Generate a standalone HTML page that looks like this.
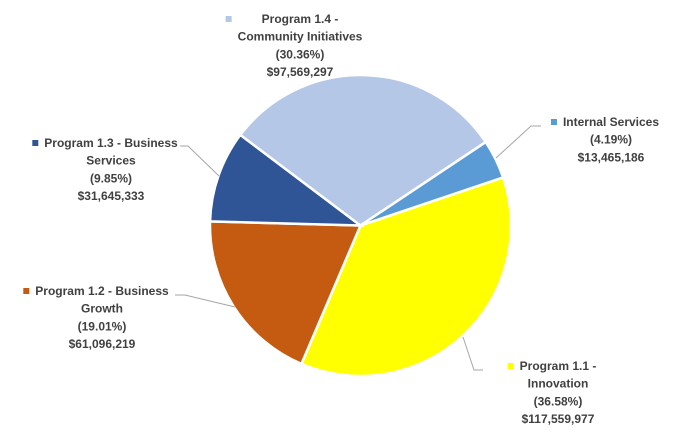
<!DOCTYPE html>
<html><head><meta charset="utf-8"><style>
body{margin:0;background:#fff;}
svg text{font-family:"Liberation Sans",sans-serif;font-weight:bold;font-size:12px;fill:#404040;}
</style></head><body>
<svg id="chart" width="681" height="441" xmlns="http://www.w3.org/2000/svg"></svg>
<script>
const categories = ["Program 1.1 - Innovation","Program 1.2 - Business Growth","Program 1.3 - Business Services","Program 1.4 - Community Initiatives","Internal Services"];
const values = [117559977, 61096219, 31645333, 97569297, 13465186];
const colors = ["#ffff00","#c55a11","#2f5597","#b4c7e7","#5b9bd5"];
const labelLines = [["Program 1.1 -","Innovation"],["Program 1.2 - Business","Growth"],["Program 1.3 - Business","Services"],["Program 1.4 -","Community Initiatives"],["Internal Services"]];
const startAngle = 71.4;
const cx=360.5, cy=225.5, r=150.5;
const labelPos = [[558,366],[102,291],[111,143],[300,19],[611,122]];
const leaders = [[[463,337],[474,370],[483,370]],[[235,307],[185,295],[175,295]],[[219,176],[188,146],[180,146]],[[365,75],[365,75],[365,75]],[[496,158],[531,126],[541,126]]];
const svg=document.getElementById('chart');
const NS="http://www.w3.org/2000/svg";
const total=values.reduce((a,b)=>a+b,0);
function pt(a,rad){const t=(a-90)*Math.PI/180;return [cx+rad*Math.cos(t),cy+rad*Math.sin(t)];}
let a=startAngle;
values.forEach((v,i)=>{
  const sweep=v/total*360;const p1=pt(a,r),p2=pt(a+sweep,r);
  const path=document.createElementNS(NS,'path');
  path.setAttribute('d',`M${cx},${cy}L${p1[0]},${p1[1]}A${r},${r} 0 ${sweep>180?1:0} 1 ${p2[0]},${p2[1]}Z`);
  path.setAttribute('fill',colors[i]);path.setAttribute('stroke','#fff');path.setAttribute('stroke-width','2.5');
  
  
  svg.appendChild(path);a+=sweep;
});
values.forEach((v,i)=>{
  const pl=document.createElementNS(NS,'polyline');
  pl.setAttribute('points',leaders[i].map(p=>p.join(',')).join(' '));
  pl.setAttribute('fill','none');pl.setAttribute('stroke','#a6a6a6');pl.setAttribute('stroke-width','1');
  
  
  svg.appendChild(pl);
  const lines=labelLines[i].concat(["("+(v/total*100).toFixed(2)+"%)","$"+v.toLocaleString('en-US')]);
  const [lx,ly]=labelPos[i];
  const g=document.createElementNS(NS,'g');
  
  
  lines.forEach((t,j)=>{
    const tx=document.createElementNS(NS,'text');
    tx.setAttribute('x',lx);tx.setAttribute('y',ly+j*17.7+4);tx.setAttribute('text-anchor','middle');
    tx.textContent=t;g.appendChild(tx);
  });
  svg.appendChild(g);
  let w=0;Array.from(g.childNodes).forEach(n=>{w=Math.max(w,n.getComputedTextLength());});
  const sq=document.createElementNS(NS,'rect');
  sq.setAttribute('x',lx-w/2-12);sq.setAttribute('y',ly-3);sq.setAttribute('width',6);sq.setAttribute('height',6);
  sq.setAttribute('fill',colors[i]);
  
  
  svg.appendChild(sq);
});
</script>
</body></html>
